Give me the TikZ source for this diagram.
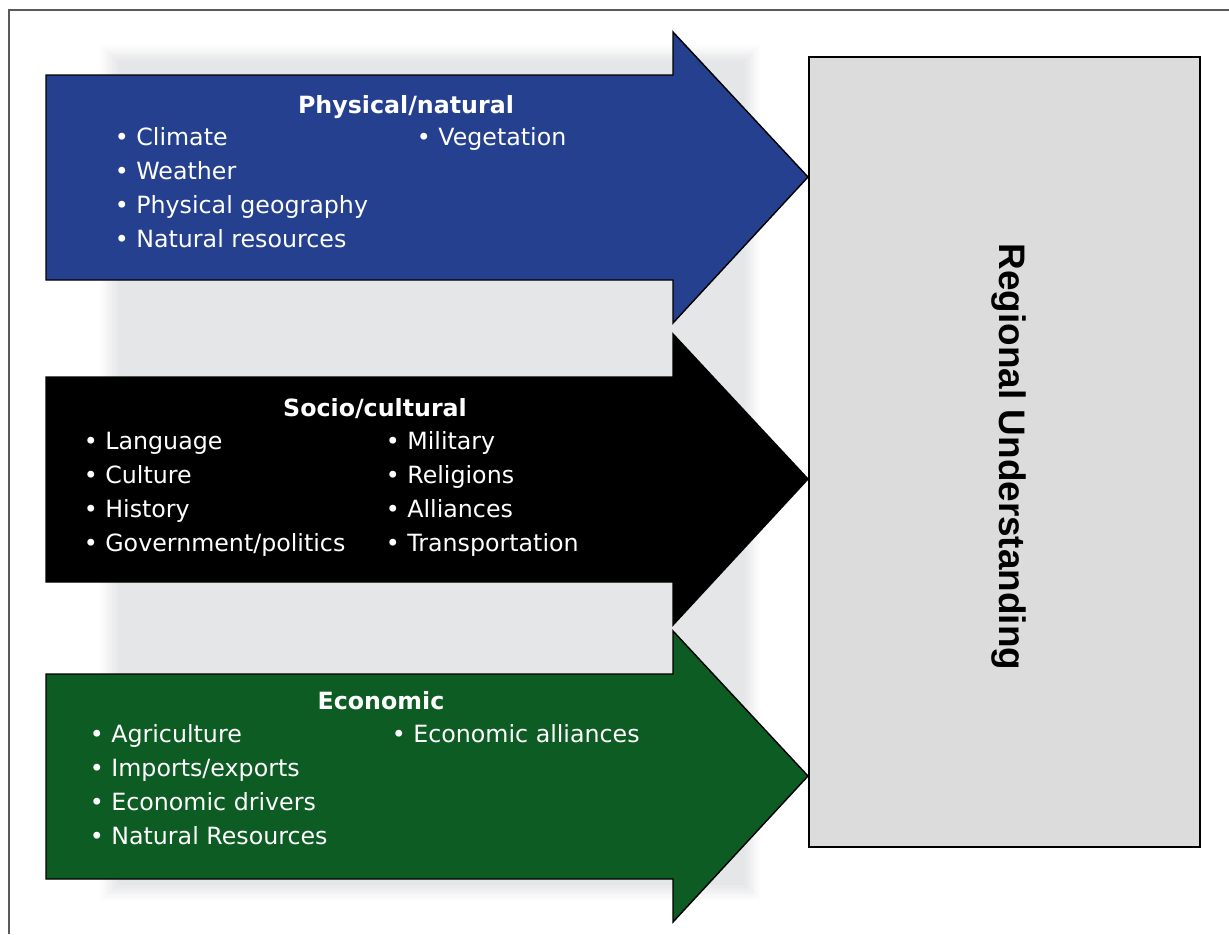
\documentclass[tikz,border=0pt]{standalone}
\usepackage{fontspec}
\setmainfont{DejaVu Sans}
\newfontfamily\regionfont{Liberation Sans}
\usetikzlibrary{positioning}
\definecolor{physblue}{RGB}{37,64,143}
\definecolor{econgreen}{RGB}{13,92,35}
\definecolor{shadegray}{RGB}{229,230,232}
\definecolor{boxgray}{RGB}{220,220,220}
\definecolor{framegray}{RGB}{90,90,90}
\tikzset{
    bigarrow/.style={draw=black, line width=0.8pt, line join=miter},
    heading/.style={anchor=base, inner sep=0pt, text=white, font=\fontsize{13.5}{16}\selectfont\bfseries},
    item/.style={anchor=base west, inner sep=0pt, text=white, font=\fontsize{13.5}{16}\selectfont},
    target/.style={rectangle, draw=black, line width=0.8pt, fill=boxgray, minimum width=7.82cm, minimum height=15.8cm, inner sep=0pt},
    targetlabel/.style={rotate=-90, inner sep=0pt, font=\regionfont\fontsize{21}{25}\selectfont\bfseries}
}

\begin{document}
\begin{tikzpicture}[x=0.02cm, y=-0.02cm]
    \useasboundingbox (0,0) rectangle (1229,934);
    % Frame
    \draw[framegray, line width=0.7pt] (9,934) -- (9,10) -- (1229,10);

    % Soft backdrop behind the arrows
    \foreach \k/\p in {0/12, 1/25, 2/40, 3/55, 4/70, 5/85, 6/100}
        \fill[shadegray!\p!white] (100+3*\k,45+2.5*\k) rectangle (760-2.5*\k,900-2.5*\k);

    % Arrows
    \foreach \top/\col in {75/physblue, 377/black, 674/econgreen}
        \draw[bigarrow, fill=\col] (46,\top) -- (673,\top) -- (673,\top-43) -- (808,\top+102)
            -- (673,\top+248) -- (673,\top+205) -- (46,\top+205) -- cycle;

    % Target box
    \node[target] (region) at (1004.5,452) {};
    \node[targetlabel] (regionlabel) at ([shift={(4.5,5)}]region.center) {Regional Understanding};

    % Physical/natural
    \node[heading] (phys) at (406,113) {Physical/natural};
    \foreach \txt [count=\i from 0] in {Climate, Weather, Physical geography, Natural resources}
        \node[item] (phys-l\i) at (114.5,145+34*\i) {•~\txt};
    \node[item] (phys-r0) at (416.5,145) {•~Vegetation};

    % Socio/cultural
    \node[heading] (socio) at (375,416) {Socio/cultural};
    \foreach \txt [count=\i from 0] in {Language, Culture, History, Government/politics}
        \node[item] (socio-l\i) at (83.5,449+34*\i) {•~\txt};
    \foreach \txt [count=\i from 0] in {Military, Religions, Alliances, Transportation}
        \node[item] (socio-r\i) at (385.5,449+34*\i) {•~\txt};

    % Economic
    \node[heading] (econ) at (381,709) {Economic};
    \foreach \txt [count=\i from 0] in {Agriculture, Imports/exports, Economic drivers, Natural Resources}
        \node[item] (econ-l\i) at (89.5,742+34*\i) {•~\txt};
    \node[item] (econ-r0) at (391.5,742) {•~Economic alliances};
\end{tikzpicture}
\end{document}
